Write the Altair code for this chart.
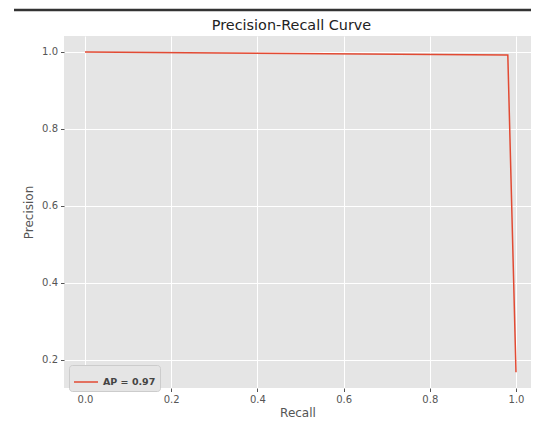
import altair as alt
import pandas as pd

recall = [0.0, 0.981, 1.0]
precision = [1.0, 0.992, 0.168]
series = ["AP = 0.97"] * 3
x_ticks = [0.0, 0.2, 0.4, 0.6, 0.8, 1.0]
y_ticks = [0.2, 0.4, 0.6, 0.8, 1.0]
title_text = ["Precision-Recall Curve"]

df = pd.DataFrame({"Recall": recall, "Precision": precision, "series": series})

W, H = 467, 352
PAD_L, PAD_T, PAD_B = 56, 28, 32

line = alt.Chart(df).mark_line(strokeWidth=1.5, clip=True).encode(
    x=alt.X("Recall:Q",
            scale=alt.Scale(domain=[-0.0487, 1.0348], nice=False, zero=False),
            axis=alt.Axis(values=x_ticks, format=".1f", title="Recall",
                          titleFontSize=12, titleFontWeight="normal", titleColor="#555555",
                          titlePadding=3, labelPadding=3, tickSize=3.5)),
    y=alt.Y("Precision:Q",
            scale=alt.Scale(domain=[0.127, 1.0415], nice=False, zero=False),
            axis=alt.Axis(values=y_ticks, format=".1f", title="Precision",
                          titleFontSize=12, titleFontWeight="normal", titleColor="#555555",
                          titlePadding=6, labelPadding=3, tickSize=3.5)),
    color=alt.Color("series:N",
                    scale=alt.Scale(range=["#E24A33"]),
                    legend=alt.Legend(title=None, orient="none", legendX=5, legendY=329,
                                      symbolType="stroke", symbolSize=576, symbolStrokeWidth=1.5,
                                      labelFontSize=9.5, labelFontWeight="bold", labelColor="#444444",
                                      fillColor="#E5E5E5", strokeColor="#CCCCCC", cornerRadius=3,
                                      padding=4)),
    order=alt.Order("Recall:Q"),
)

topline = alt.Chart(pd.DataFrame({"a": [0]})).mark_rule(color="#333333", strokeWidth=2.5, clip=False).encode(
    x=alt.value(14 - 8 - PAD_L), x2=alt.value(W + 10), y=alt.value(10 - 8 - PAD_T)
)

title = alt.Chart(pd.DataFrame({"t": title_text})).mark_text(
    fontSize=14.4, color="#222222", baseline="alphabetic", align="center", clip=False
).encode(
    text="t:N", x=alt.value(291.5 - 8 - PAD_L), y=alt.value(29.5 - 8 - PAD_T)
)

chart = alt.layer(line, topline, title).properties(
    width=W, height=H,
    autosize=alt.AutoSizeParams(type="none"),
    padding={"left": PAD_L, "top": PAD_T, "right": 0, "bottom": PAD_B},
).configure(
    font="DejaVu Sans",
).configure_view(
    fill="#E5E5E5", stroke=None,
).configure_axis(
    grid=True, gridColor="#FFFFFF", gridWidth=1, domain=False,
    tickColor="#555555", labelColor="#555555", labelFontSize=10, labelFont="DejaVu Sans",
    titleFont="DejaVu Sans",
)

chart.save("out.html", embed_options={"renderer": "svg", "actions": False})
